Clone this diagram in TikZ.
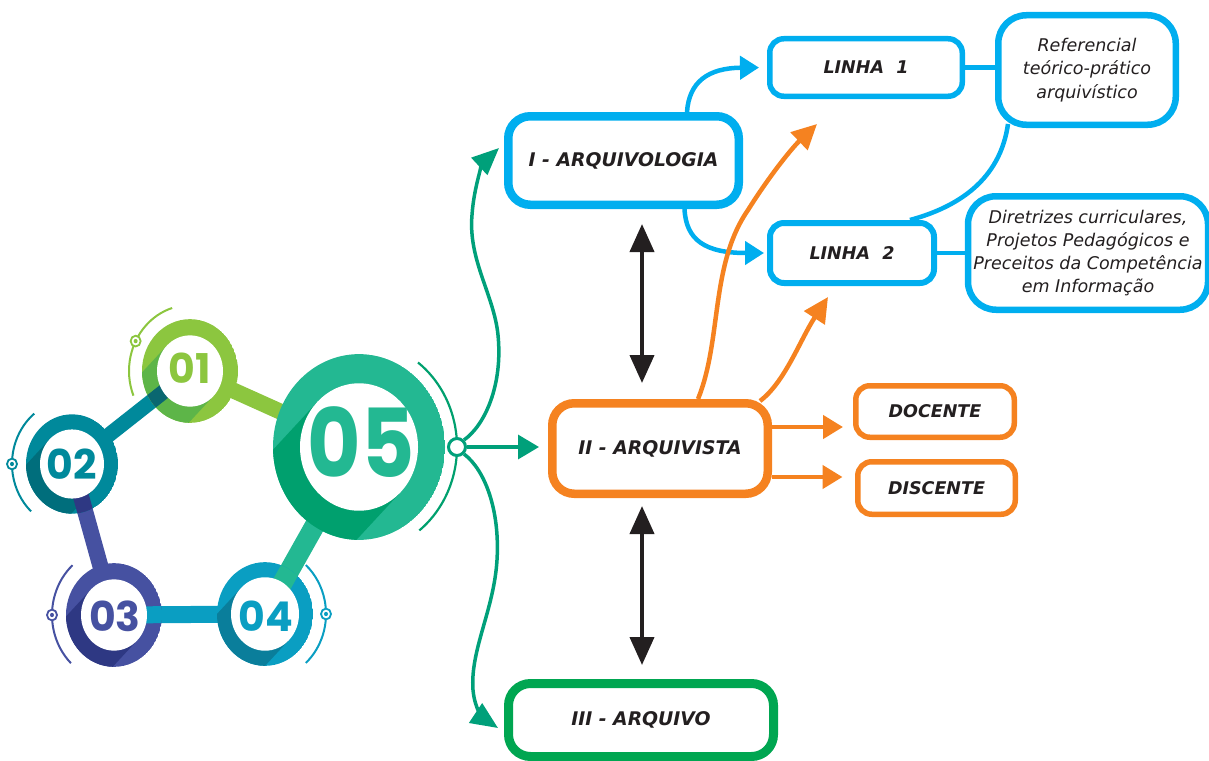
\documentclass[tikz,border=0pt]{standalone}
\usepackage{fontspec}
\setmainfont{DejaVu Sans}[BoldFont={DejaVu Sans Bold},ItalicFont={DejaVu Sans Oblique},BoldItalicFont={DejaVu Sans Bold Oblique}]
\newfontfamily\numfont{Poppins}[BoldFont={Poppins Bold}]
\usetikzlibrary{arrows.meta,calc}
\definecolor{cyanb}{HTML}{00AEEF}
\definecolor{orangeb}{HTML}{F58220}
\definecolor{greenb}{HTML}{00A651}
\definecolor{greena}{HTML}{00A07A}
\definecolor{inkc}{HTML}{231F20}
\definecolor{cA}{HTML}{8CC63F}\definecolor{cAd}{HTML}{5DB548}
\definecolor{cB}{HTML}{00899B}\definecolor{cBd}{HTML}{006E7C}\definecolor{cBx}{HTML}{0A6770}
\definecolor{cC}{HTML}{4651A1}\definecolor{cCd}{HTML}{2E3883}
\definecolor{cD}{HTML}{0A9EC2}\definecolor{cDd}{HTML}{0A7E9B}
\definecolor{cE}{HTML}{23B892}\definecolor{cEd}{HTML}{00A06E}
\newcommand\ringdisc[6]{%
 \begin{scope}[shift={(#1,#2)},yscale=1.08]
  \begin{scope}
   \clip (0,0) circle (#3);
   \fill[#5] (0,0) circle (#3);
   \fill[#6] (45:#4) -- (225:#4) -- ++(135:300) -- ++(45:{2*#4}) -- cycle;
  \end{scope}
 \end{scope}}
\newcommand\ringhole[3]{%
 \begin{scope}[shift={(#1,#2)},yscale=1.08]
  \fill[white] (0,0) circle (#3);
 \end{scope}}
\newcommand\ringover[7]{% cx cy rout from to color width
 \begin{scope}[shift={(#1,#2)},yscale=1.08]
  \clip (0,0) circle (#3);
  \draw[line width=#7,#6] (#4) -- (#5);
 \end{scope}}
\newcommand\ringarc[7]{%
 \begin{scope}[shift={(#1,#2)},yscale=1.08]
  \draw[#7, line width=2pt] (#4:#3) arc[start angle=#4, end angle=#5, radius=#3];
  \filldraw[fill=white, draw=#7, line width=1.8pt] (#6:#3) circle (5);
  \fill[#7] (#6:#3) circle (2);
 \end{scope}}
\tikzset{
 mbox/.style={draw, line width=8.5pt, rounded corners=22pt, fill=white, text=inkc, font=\fontsize{18.8}{22}\selectfont\bfseries\itshape, inner sep=0pt},
 sbox/.style={draw, line width=5.5pt, rounded corners=14pt, fill=white, text=inkc, font=\fontsize{17.5}{21}\selectfont\bfseries\itshape, inner sep=0pt},
 dbox/.style={draw=cyanb, line width=6.5pt, rounded corners=28pt, fill=white, text=inkc, align=center, font=\fontsize{17.5}{23.3}\selectfont\itshape, inner sep=0pt},
 carrow/.style={draw=cyanb, line width=4.5pt, -{Triangle[length=19pt,width=23pt]}},
 oarrow/.style={draw=orangeb, line width=4.5pt, -{Triangle[length=20pt,width=23pt]}},
 oarrowb/.style={draw=orangeb, line width=4.5pt, -{Triangle[length=25pt,width=24pt]}},
 garrow/.style={draw=greena, line width=3.5pt, -{Triangle[length=21pt,width=24pt]}},
 garrowb/.style={draw=greena, line width=3.5pt, -{Triangle[length=27pt,width=23pt]}},
 barrow/.style={draw=inkc, line width=4pt, {Triangle[length=28pt,width=24pt]}-{Triangle[length=28pt,width=24pt]}},
 cline/.style={draw=cyanb, line width=4.5pt},
 numtext/.style={font=\numfont\bfseries\fontsize{#1}{#1}\selectfont, inner sep=0pt}
}
\begin{document}
\begin{tikzpicture}[x=1pt,y=-1pt]
\useasboundingbox (0,0) rectangle (1209,760);
% ---------- badges ----------
\coordinate (c1) at (190,371);
\coordinate (c2) at (72,464);
\coordinate (c3) at (114,615);
\coordinate (c4) at (265,614);
\coordinate (c5) at (359,447);
\draw[line width=16pt, cA] (c1) -- (c5);
\draw[line width=15pt, cB] (c2) -- (c1);
\draw[line width=16pt, cC] (c2) -- (c3);
\draw[line width=17pt, cD] (c3) -- (c4);
\draw[line width=20pt, cE] (c4) -- (c5);
\ringdisc{190}{371}{48}{33}{cA}{cAd}
\ringdisc{72}{464}{46}{32}{cB}{cBd}
\ringdisc{114}{615}{48}{33}{cC}{cCd}
\ringdisc{265}{614}{48}{34}{cD}{cDd}
\ringdisc{359}{447}{86}{59}{cE}{cEd}
\ringover{190}{371}{48}{c1}{c2}{cBx}{15pt}
\ringover{72}{464}{46}{c2}{c3}{cCd}{16pt}
\ringover{114}{615}{48}{c3}{c4}{cD}{17pt}
\ringover{265}{614}{48}{c4}{c5}{cE}{20pt}
\ringhole{190}{371}{33}
\ringhole{72}{464}{32}
\ringhole{114}{615}{33}
\ringhole{265}{614}{34}
\ringhole{359}{447}{59}
\node[numtext=41, text=cA] (n1) at (190,368) {01};
\node[numtext=41, text=cB] (n2) at (72,464) {02};
\node[numtext=41, text=cC] (n3) at (115,616) {03};
\node[numtext=41, text=cD] (n4) at (266,616) {04};
\node[numtext=82, text=cE] (n5) at (361,442) {\scalebox{1}[1.16]{05}};
\ringarc{190}{371}{61}{-107}{-202}{-153}{cA}
\ringarc{72}{464}{60}{-129}{-227}{-180}{cB}
\ringarc{114}{615}{62}{-132}{-226}{-180}{cC}
\ringarc{265}{614}{61}{48}{-48}{0}{cD}
\begin{scope}[shift={(359,447)},yscale=1.08]
 \draw[cEd, line width=2.2pt] (52:98) arc[start angle=52, end angle=-53, radius=98];
\end{scope}
% ---------- boxes ----------
\node[mbox, draw=cyanb, minimum width=230.5pt, minimum height=88.5pt] (I) at (623.5,160.5) {I - ARQUIVOLOGIA};
\node[sbox, draw=cyanb, minimum width=192.5pt, minimum height=57.5pt] (L1) at (866,67.5) {LINHA\hspace{0.7em}1};
\node[dbox, minimum width=177.5pt, minimum height=109.5pt] (Ref) at (1087,70) {Referencial\\teórico-prático\\arquivístico};
\node[sbox, draw=cyanb, line width=6pt, minimum width=164pt, minimum height=60pt] (L2) at (852,253) {LINHA\hspace{0.7em}2};
\node[dbox, minimum width=240pt, minimum height=113.5pt] (Dir) at (1088,253) {Diretrizes curriculares,\\Projetos Pedagógicos e\\Preceitos da Competência\\em Informação};
\node[mbox, draw=orangeb, minimum width=215.5pt, minimum height=90.5pt] (II) at (660,448.5) {II - ARQUIVISTA};
\node[sbox, draw=orangeb, minimum width=158.5pt, minimum height=51.5pt] (DOC) at (935,411.5) {DOCENTE};
\node[sbox, draw=orangeb, minimum width=157.5pt, minimum height=52.5pt] (DIS) at (936.5,488) {DISCENTE};
\node[mbox, draw=greenb, line width=9pt, minimum width=265pt, minimum height=73pt] (III) at (641,720) {III - ARQUIVO};
\coordinate (o1) at (817,124);
\coordinate (o2) at (828,297);
% ---------- connectors ----------
\draw[cline] (L1.east) -- (L1.east -| Ref.west);
\draw[cline] (L2.east) -- (L2.east -| Dir.west);
\draw[cline] ($(Ref.south)+(-79,-4)$) .. controls (1000,180) and (958,207) .. ($(L2.north)+(58,0)$);
\draw[carrow, shorten >=8pt] ($(I.north)+(63.5,0)$) .. controls (689,82) and (708,68) .. (L1.west);
\draw[carrow, shorten >=3pt] ($(I.south)+(61,0)$) .. controls (686,240) and (705,253) .. (L2.west);
\draw[oarrowb] ($(II.north)+(38,0)$) .. controls (722,340) and (710,265) .. (748,210) .. controls (770,175) and (792,148) .. (o1);
\draw[oarrowb] ($(II.north east)+(-12,2)$) .. controls (785,382) and (800,340) .. (o2);
\draw[oarrow, shorten >=10pt] ([yshift=21.5pt]II.east) -- ([yshift=21.5pt]II.east -| DOC.west);
\draw[oarrow, shorten >=12.5pt] ([yshift=-28.5pt]II.east) -- ([yshift=-28.5pt]II.east -| DIS.west);
\draw[barrow] ([xshift=18.5pt,yshift=-15pt]I.south) -- ([xshift=-18pt,yshift=16pt]II.north);
\draw[barrow] ([xshift=-18pt,yshift=-8pt]II.south) -- ([xshift=1pt,yshift=14pt]III.north);
\node[circle, draw=greena, line width=3pt, fill=white, minimum size=17pt, inner sep=0pt] (J) at (457,447) {};
\draw[garrow, shorten >=9pt] (J.east) -- (J.east -| II.west);
\draw[garrowb] (J.north east) .. controls (485,425) and (503,385) .. (498,335) .. controls (494,295) and (468,260) .. (472,215) .. controls (474,185) and (484,162) .. ($(I.west)+(-5,-12.5)$);
\draw[garrowb] (J.south east) .. controls (485,470) and (500,510) .. (497,560) .. controls (494,610) and (470,650) .. (473,690) .. controls (475,712) and (486,720) .. ($(III.west)+(-6,8)$);
\end{tikzpicture}
\end{document}
